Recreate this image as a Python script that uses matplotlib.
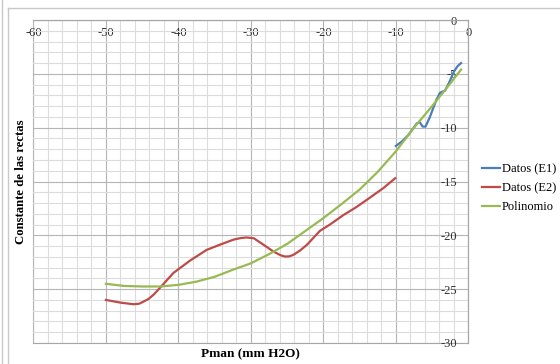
import numpy as np
import matplotlib
matplotlib.use("Agg")
import matplotlib.pyplot as plt
from matplotlib.lines import Line2D

# Datos
x_e1 = [-10, -9.2, -8.3, -7.1, -6.7, -6.3, -5.9, -5.3, -4.4, -3.9, -3.2, -2.5, -2.0, -1.5, -1.0]
y_e1 = [-11.7, -11.3, -10.7, -9.6, -9.5, -9.9, -9.9, -9.0, -7.4, -6.75, -6.55, -5.6, -4.8, -4.3, -4.0]

x_e2 = [-50, -48, -46.2, -45.4, -44.8, -44.1, -43.4, -42.3, -40.7, -39.5, -38.4, -36.1, -34, -32.4, -31.4,
        -30.6, -29.6, -28.2, -26.9, -25.9, -25.3, -24.7, -24.1, -23.2, -22.3, -20.5, -19.1, -17.2, -15.5,
        -14, -11.7, -10.1]
y_e2 = [-26.0, -26.25, -26.4, -26.35, -26.15, -25.9, -25.5, -24.7, -23.5, -22.9, -22.35, -21.35, -20.8, -20.4,
        -20.25, -20.2, -20.27, -20.9, -21.5, -21.85, -21.97, -21.95, -21.8, -21.4, -20.9, -19.6, -19.0, -18.1,
        -17.4, -16.7, -15.6, -14.7]

x_pol = [-50, -47.5, -45, -42.5, -40, -37.5, -35, -32.5, -30, -27.5, -25, -22.5, -20, -17.5,
         -15, -12.5, -10, -7.5, -5, -2.5, -1]
y_pol = [-24.5, -24.7, -24.75, -24.75, -24.6, -24.3, -23.85, -23.2, -22.6, -21.75, -20.8, -19.6, -18.4, -17.1,
         -15.75, -14.1, -12.2, -10.0, -8.0, -5.9, -4.6]

x_ticks = [-60, -50, -40, -30, -20, -10, 0]
y_ticks = [0, -5, -10, -15, -20, -25, -30]

plt.rcParams['font.family'] = ['Liberation Serif', 'DejaVu Serif']
plt.rcParams['axes.unicode_minus'] = False

fig = plt.figure(figsize=(5.6, 3.64), dpi=100)
ax = fig.add_axes([0.0597, 0.0577, 0.7766, 0.8873])

ax.plot(x_e1, y_e1, color="#4a7ebb", lw=1.6, label="Datos (E1)")
ax.plot(x_e2, y_e2, color="#be4b48", lw=1.6, label="Datos (E2)")
ax.plot(x_pol, y_pol, color="#98b954", lw=1.6, label="Polinomio")

ax.set_xlim(-60, 0)
ax.set_ylim(-30, 0)
ax.set_xticks(x_ticks)
ax.set_yticks(y_ticks)
ax.set_xticks(np.arange(-60, 1, 2), minor=True)
ax.set_yticks(np.arange(-30, 1, 1), minor=True)

# rejilla
ax.grid(which="major", color="#b5b5b5", lw=0.8)
ax.grid(which="minor", color="#dcdcdc", lw=0.8)
ax.set_axisbelow(True)

# ejes cruzan en 0 (como Excel)
ax.spines['bottom'].set_position(('data', 0))
ax.spines['left'].set_position(('data', 0))
for s in ax.spines.values():
    s.set_color("#a6a6a6")
    s.set_linewidth(0.8)
ax.axhline(-30, color="#a6a6a6", lw=0.8, clip_on=False, zorder=0.5)
ax.axvline(-60, color="#a6a6a6", lw=0.8, clip_on=False, zorder=0.5)

ax.tick_params(which="both", length=0, labelsize=9, colors="#303030")
ax.tick_params(axis="x", pad=5)
ax.tick_params(axis="y", pad=8)

ax.set_xlabel("Pman (mm H2O)", fontsize=9.5, fontweight="bold")
ax.xaxis.set_label_coords(0.5, -0.017)
ax.xaxis.label.set_verticalalignment("top")
ax.set_ylabel("Constante de las rectas", fontsize=9.2, fontweight="bold")
ax.yaxis.set_label_coords(-0.015, 0.5)

fig.legend(loc="center left", bbox_to_anchor=(0.85, 0.483), frameon=False, fontsize=9,
           handlelength=1.4, handletextpad=0.15, labelspacing=0.55, borderpad=0)

# marco del grafico
fig.add_artist(Line2D([8/560, 1], [1 - 8/364, 1 - 8/364], color="#c8c8c8", lw=1))
fig.add_artist(Line2D([8/560, 8/560], [0, 1 - 8/364], color="#c8c8c8", lw=1))
fig.add_artist(Line2D([2/560, 2/560], [0, 1], color="#c8c8c8", lw=1))

fig.savefig("out.png", dpi=100)
